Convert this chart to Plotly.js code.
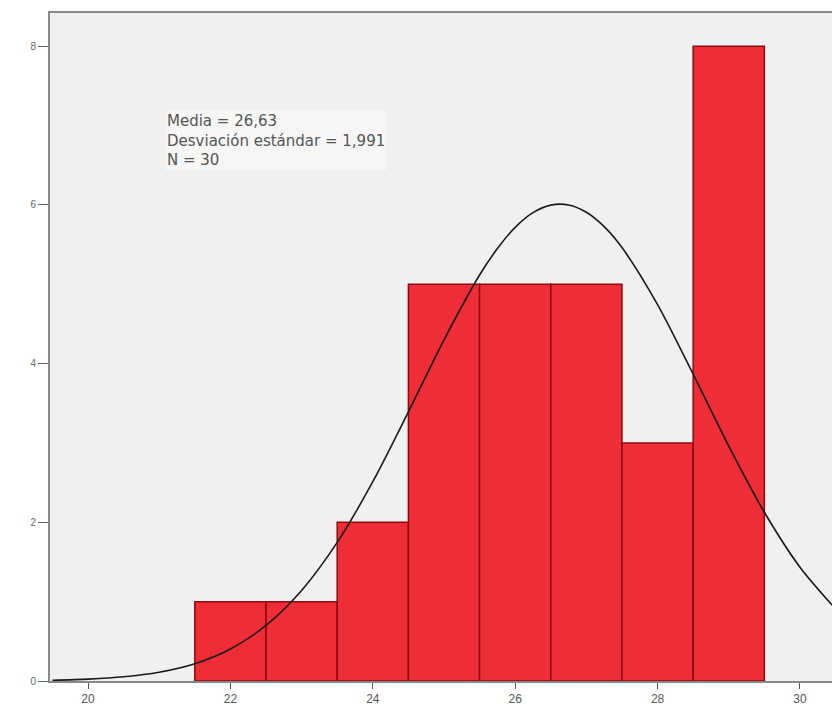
<!DOCTYPE html>
<html>
<head>
<meta charset="utf-8">
<script src="https://cdn.plot.ly/plotly-3.0.1.min.js"></script>
<style>html,body{margin:0;padding:0;background:#fff;}#chart{width:832px;height:714px;}</style>
</head>
<body>
<div id="chart"></div>
<script>
// Histogram bins (centres, width 1) and frequencies
var binCenters = [22, 23, 24, 25, 26, 27, 28, 29];
var counts = [1, 1, 2, 5, 5, 5, 3, 8];

// Normal curve (mean 26,63, sd 1,991, N 30)
var curveX = [19.5, 20, 20.5, 21, 21.5, 22, 22.5, 23, 23.5, 24, 24.5, 25, 25.5, 25.75, 26, 26.25, 26.5, 26.75, 27, 27.25, 27.5, 28, 28.5, 29, 29.5, 30, 30.5];
var curveY = [0.01, 0.024, 0.053, 0.11, 0.217, 0.403, 0.70, 1.141, 1.747, 2.512, 3.392, 4.299, 5.117, 5.451, 5.718, 5.903, 5.998, 6.0, 5.908, 5.727, 5.463, 4.744, 3.867, 2.96, 2.127, 1.435, 0.909];

var xTicks = [20, 22, 24, 26, 28, 30];
var yTicks = [0, 2, 4, 6, 8];
var statsText = ["Media = 26,63", "Desviación estándar = 1,991", "N = 30"];

var traces = [
  {
    type: "bar",
    x: binCenters,
    y: counts,
    width: 1,
    marker: {color: "#ee2d36", line: {color: "#8c0a10", width: 1.5}},
    hoverinfo: "x+y"
  },
  {
    type: "scatter",
    mode: "lines",
    x: curveX,
    y: curveY,
    line: {color: "#1a1a1a", width: 1.6, shape: "spline", smoothing: 0.8},
    hoverinfo: "skip"
  }
];

var layout = {
  width: 832,
  height: 714,
  margin: {l: 50, r: 0, t: 13, b: 33},
  paper_bgcolor: "#ffffff",
  plot_bgcolor: "#f0f0f0",
  showlegend: false,
  bargap: 0,
  font: {family: "Liberation Sans, Arial, sans-serif", color: "#555"},
  xaxis: {
    range: [19.466, 30.45],
    tickvals: xTicks,
    ticktext: xTicks.map(String),
    ticks: "outside",
    ticklen: 6,
    tickcolor: "#555",
    tickfont: {size: 12, color: "#555"},
    showgrid: false,
    zeroline: false,
    showline: true,
    linecolor: "#888",
    linewidth: 2,
    mirror: true
  },
  yaxis: {
    range: [0, 8.42],
    tickvals: yTicks,
    ticktext: yTicks.map(String),
    ticks: "outside",
    ticklen: 10,
    tickcolor: "#666",
    tickfont: {size: 10, color: "#666"},
    showgrid: false,
    zeroline: false,
    showline: true,
    linecolor: "#888",
    linewidth: 2
  },
  annotations: [
    {
      x: 21.08,
      y: 7.2,
      xref: "x",
      yref: "y",
      xanchor: "left",
      yanchor: "top",
      align: "left",
      showarrow: false,
      text: statsText.join("<br>"),
      font: {family: "DejaVu Sans, sans-serif", size: 15, color: "#555"},
      bgcolor: "rgba(250,250,250,0.6)"
    }
  ]
};

Plotly.newPlot("chart", traces, layout, {displayModeBar: false, staticPlot: true});
</script>
</body>
</html>
